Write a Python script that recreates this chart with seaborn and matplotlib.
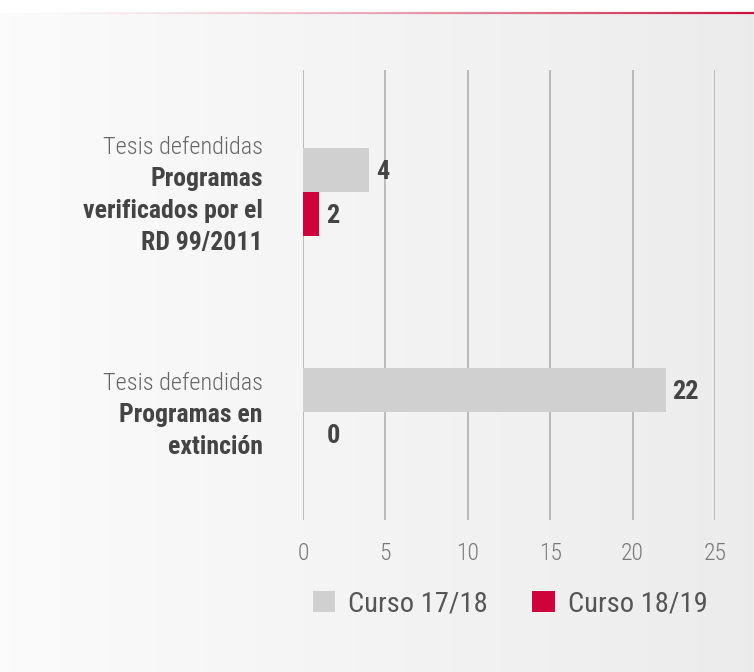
import numpy as np
import pandas as pd
import matplotlib
matplotlib.use("Agg")
import matplotlib.pyplot as plt
from matplotlib import font_manager
from matplotlib.patches import Patch
import seaborn as sns

categories = ["Programas verificados por el RD 99/2011", "Programas en extinción"]
label_top = ["Tesis defendidas", "Tesis defendidas"]
label_bold = [["Programas", "verificados por el", "RD 99/2011"], ["Programas en", "extinción"]]
series_names = ["Curso 17/18", "Curso 18/19"]
# bar lengths as drawn in the picture
values_1718 = [4, 22]
values_1819 = [1, 0]
# value labels as printed in the picture
labels_1718 = ["4", "22"]
labels_1819 = ["2", "0"]
x_ticks = [0, 5, 10, 15, 20, 25]

colors = {"Curso 17/18": "#d0d0d0", "Curso 18/19": "#d0023b"}

sns.set_theme(style="white")
names = {f.name for f in font_manager.fontManager.ttflist}
fam = "Roboto Condensed" if "Roboto Condensed" in names else "Roboto"
plt.rcParams["font.family"] = [fam, "DejaVu Sans"]

df = pd.DataFrame({
    "cat": categories * 2,
    "curso": [series_names[0]] * 2 + [series_names[1]] * 2,
    "val": values_1718 + values_1819,
})

W, H = 754, 672
fig = plt.figure(figsize=(W / 100, H / 100), dpi=100)
fig.patch.set_facecolor("white")

# background gradient
bg = fig.add_axes([0, 0, 1, 1], zorder=-5)
grad = np.linspace(0.985, 0.925, 256)
img = np.tile(grad, (2, 1))
bg.imshow(np.dstack([img, img, img]), aspect="auto", extent=[0, 1, 0, 1 - 13 / H])
bg.set_xlim(0, 1)
bg.set_ylim(0, 1)
# top red gradient line
n = 200
xs = np.linspace(0, 1, n + 1)
for i in range(n):
    a = (xs[i] + 0.5 / n) ** 1.5
    bg.plot([xs[i], xs[i + 1]], [1 - 13 / H] * 2, color="#c8103e", alpha=min(1, a), lw=1.6,
            solid_capstyle="butt")
bg.axis("off")

ax = fig.add_axes([303 / W, 1 - 520 / H, (715 - 303) / W, (520 - 70) / H], zorder=1)
ax.patch.set_alpha(0)
sns.barplot(data=df, y="cat", x="val", hue="curso", order=categories,
            hue_order=series_names, palette=colors, width=0.4, gap=0,
            orient="h", ax=ax, legend=False, saturation=1, linewidth=0, edgecolor="none")

ax.set_xlim(0, 25)
ax.set_ylim(1.49, -0.557)
ax.set_xticks(x_ticks)
ax.set_xticklabels([str(t) for t in x_ticks], fontsize=17, color="#777777", fontweight="light")
ax.tick_params(axis="x", length=0, pad=16)
ax.set_yticks([])
ax.set_xlabel("")
ax.set_ylabel("")
for s in ax.spines.values():
    s.set_visible(False)
ax.grid(axis="x", color="#b0b0b0", lw=1.2)
ax.set_axisbelow(True)

# value labels
for i, cat in enumerate(categories):
    for j, (vals, labs) in enumerate(zip([values_1718, values_1819], [labels_1718, labels_1819])):
        v = vals[i]
        ypos = i - 0.1 + 0.2 * j
        ax.annotate(labs[i], xy=(max(v, 1.0), ypos), xytext=(5, -1), textcoords="offset points",
                    ha="left", va="center", fontsize=19, fontweight="bold", color="#444444")

# category labels
line_pt = 23
for i in range(len(categories)):
    lines = [(label_top[i], "light", "#666666", 17.5)] + \
            [(b, "bold", "#444444", 18.5) for b in label_bold[i]]
    nl = len(lines)
    for k, (txt, w, c, fs) in enumerate(lines):
        off = ((nl - 1) / 2 - k) * line_pt
        ax.annotate(txt, xy=(0, i), xycoords=("axes fraction", "data"),
                    xytext=(-29, off - 2), textcoords="offset points",
                    ha="right", va="center", fontsize=fs, fontweight=w, color=c)

handles = [Patch(facecolor=colors[s], edgecolor="none") for s in series_names]
fig.legend(handles, series_names, loc="center", bbox_to_anchor=(510 / W, 1 - 604 / H),
           ncol=2, frameon=False, fontsize=20.5, handlelength=0.8, handleheight=0.8,
           handletextpad=0.45, columnspacing=1.55, labelcolor="#555555")

fig.savefig("out.png", dpi=100)
